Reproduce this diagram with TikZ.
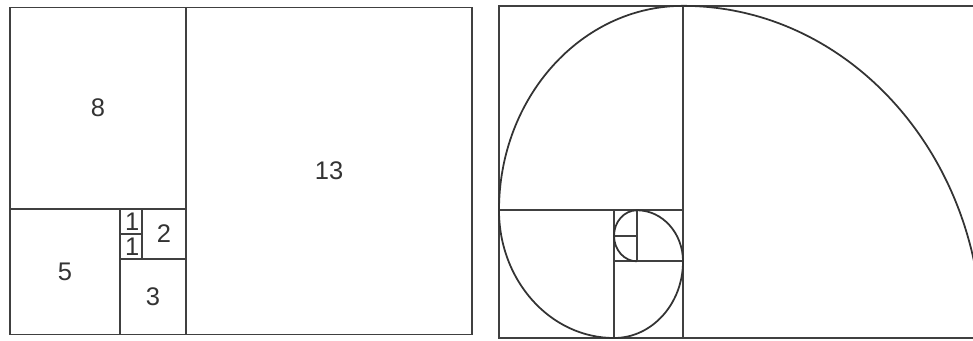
\documentclass[tikz,border=0pt]{standalone}
\usepackage{fontspec}
\setmainfont{Liberation Sans}
\tikzset{
  tile/.style={draw=black!75, line width=0.85pt},
  spiral/.style={draw=black!80, line width=1pt},
  num/.style={font=\fontsize{14.5}{16}\selectfont, text=black!80, inner sep=0pt}
}
% squares 13, 8, 5, 3, 2, 1, 1 inside a 21 x 13 frame
\newcommand{\fibtiles}{%
  \draw[tile] (0,0) rectangle (21,13);
  \draw[tile] (8,0) -- (8,13);
  \draw[tile] (0,5) -- (8,5);
  \draw[tile] (5,0) -- (5,5);
  \draw[tile] (5,3) -- (8,3);
  \draw[tile] (6,3) -- (6,5);
  \draw[tile] (5,4) -- (6,4);
}

\begin{document}
\begin{tikzpicture}
\useasboundingbox (0,0) rectangle (19.46,6.8);
\clip (0,0) rectangle (19.46,6.8);

% left: the squares with their sizes
\begin{scope}[shift={(0.2,0.11)}, xscale=0.44, yscale=0.503]
\fibtiles
\node[num] (n13) at (14.5,6.5) {13};
\node[num] (n8) at (4,9) {8};
\node[num] (n5) at (2.5,2.5) {5};
\node[num] (n3) at (6.5,1.5) {3};
\node[num] (n2) at (7,4) {2};
\node[num] (n1a) at (5.55,4.5) {1};
\node[num] (n1b) at (5.55,3.5) {1};
\end{scope}

% right: the same squares with the spiral
\begin{scope}[shift={(9.98,0.04)}, xscale=0.46, yscale=0.511, tile/.append style={line width=1pt}]
\fibtiles
\draw[spiral] (21,0) arc[start angle=0, end angle=90, radius=13]
  arc[start angle=90, end angle=180, radius=8]
  arc[start angle=180, end angle=270, radius=5]
  arc[start angle=270, end angle=360, radius=3]
  arc[start angle=0, end angle=90, radius=2]
  arc[start angle=90, end angle=180, radius=1]
  arc[start angle=180, end angle=270, radius=1];
\end{scope}
\end{tikzpicture}
\end{document}
